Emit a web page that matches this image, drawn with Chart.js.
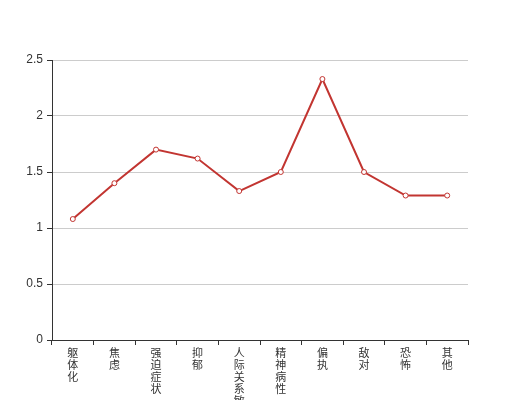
<!DOCTYPE html>
<html>
<head>
<meta charset="utf-8">
<script src="https://cdn.jsdelivr.net/npm/chart.js@4/dist/chart.umd.min.js"></script>
<style>
  html, body { margin: 0; padding: 0; background: #fff; }
  #wrap { width: 520px; height: 400px; }
</style>
</head>
<body>
<div id="wrap"><canvas id="scl"></canvas></div>
<script>
var categories = ["躯体化", "焦虑", "强迫症状", "抑郁", "人际关系敏感", "精神病性", "偏执", "敌对", "恐怖", "其他"];
var scores = [1.08, 1.40, 1.70, 1.62, 1.33, 1.50, 2.33, 1.50, 1.29, 1.29];
var yTicks = [0, 0.5, 1, 1.5, 2, 2.5];

// vertical text: one character per line
var verticalLabels = categories.map(function (c) { return c.split(""); });

Chart.defaults.font.family = "Arial, 'Liberation Sans', 'Noto Sans CJK SC', sans-serif";

var ctx = document.getElementById('scl').getContext('2d');
new Chart(ctx, {
  type: 'line',
  data: {
    labels: verticalLabels,
    datasets: [{
      data: scores,
      borderColor: '#c23531',
      borderWidth: 2,
      backgroundColor: '#ffffff',
      pointBackgroundColor: '#ffffff',
      pointBorderColor: '#c23531',
      pointBorderWidth: 1,
      pointRadius: 2.5,
      tension: 0,
      fill: false
    }]
  },
  options: {
    responsive: true,
    maintainAspectRatio: false,
    animation: false,
    layout: { padding: { top: 60, right: 52, left: 0, bottom: 0 } },
    plugins: { legend: { display: false }, tooltip: { enabled: false } },
    scales: {
      x: {
        offset: true,
        grid: { offset: true, drawOnChartArea: false, drawTicks: true, tickLength: 5, tickColor: '#333' },
        border: { color: '#333', width: 1 },
        ticks: {
          color: '#333', autoSkip: false, maxRotation: 0, padding: 3,
          font: { size: 11, lineHeight: '12px' }
        },
        afterFit: function (s) { s.height = 60; }
      },
      y: {
        min: 0, max: 2.5,
        afterBuildTicks: function (s) { s.ticks = yTicks.map(function (v) { return { value: v }; }); },
        grid: { color: '#ccc', tickColor: '#333', tickLength: 5 },
        border: { color: '#333', width: 1 },
        ticks: {
          color: '#333', padding: 4, font: { size: 12 },
          callback: function (v) { return String(v); }
        },
        afterFit: function (s) { s.width = 52; }
      }
    }
  }
});
</script>
</body>
</html>
